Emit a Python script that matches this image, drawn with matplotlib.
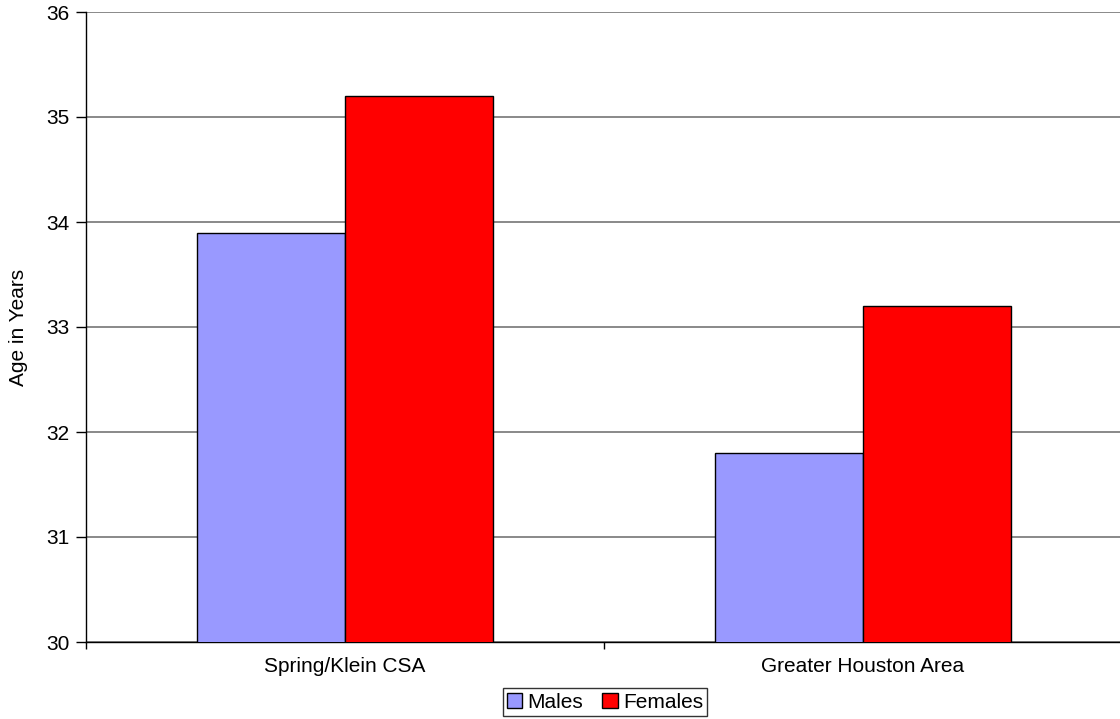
import matplotlib.pyplot as plt
import numpy as np
from matplotlib.patches import Patch

# data
categories = ["Spring/Klein CSA", "Greater Houston Area"]
males = [33.9, 31.8]
females = [35.2, 33.2]
series_names = ["Males", "Females"]
y_ticks = [30, 31, 32, 33, 34, 35, 36]

plt.rcParams['font.family'] = ['Liberation Sans', 'DejaVu Sans']
FS = 15

W, H = 1120, 719
fig = plt.figure(figsize=(W / 100, H / 100), dpi=100)
# right edge runs off the picture, as in the original
ax = fig.add_axes([86 / W, 1 - 642 / H, (1122 - 86) / W, (642 - 12) / H])

x = np.arange(len(categories))
bw = 0.2857
ax.bar(x - bw / 2, males, bw, bottom=0, color="#9999ff", edgecolor="black", linewidth=1, zorder=3)
ax.bar(x + bw / 2, females, bw, bottom=0, color="#ff0000", edgecolor="black", linewidth=1, zorder=3)

ax.set_ylim(30, 36)
ax.set_xlim(-0.5, len(categories) - 0.5)
ax.set_yticks(y_ticks)
ax.yaxis.grid(True, color="#808080", linewidth=1.3, zorder=0)
ax.set_axisbelow(True)

# category labels at centres, tick marks at boundaries
ax.set_xticks(x)
ax.set_xticklabels(categories, fontsize=FS)
ax.tick_params(axis="x", length=0, pad=11)
ax.set_xticks(np.arange(len(categories) + 1) - 0.5, minor=True)
ax.tick_params(axis="x", which="minor", length=5, width=1, direction="out")
ax.tick_params(axis="y", length=7, width=1, labelsize=FS, pad=5)

for s in ["top", "right"]:
    ax.spines[s].set_visible(False)
ax.spines["left"].set_linewidth(1)
ax.spines["bottom"].set_linewidth(1)

ax.set_ylabel("Age in Years", fontsize=FS, labelpad=13)

handles = [Patch(facecolor="#9999ff", edgecolor="black"),
           Patch(facecolor="#ff0000", edgecolor="black")]
leg = fig.legend(handles, series_names, loc="center", bbox_to_anchor=(605 / W, 1 - 702 / H),
                 ncol=2, fontsize=FS, frameon=True, fancybox=False, edgecolor="black",
                 handlelength=0.75, handleheight=0.75, handletextpad=0.25, columnspacing=0.9,
                 borderpad=0.2, borderaxespad=0)
leg.get_frame().set_linewidth(1)

fig.savefig("out.png", dpi=100)
